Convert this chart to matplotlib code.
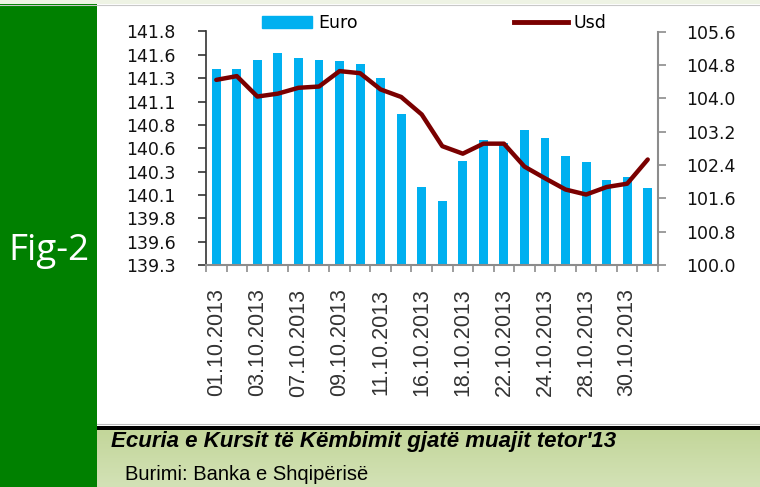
import numpy as np
import matplotlib
matplotlib.use("Agg")
import matplotlib.pyplot as plt
from matplotlib.patches import Rectangle, Patch
from matplotlib.lines import Line2D
from matplotlib.colors import LinearSegmentedColormap

# daily rates, October 2013
dates = ["01.10.2013", "02.10.2013", "03.10.2013", "04.10.2013", "07.10.2013",
         "08.10.2013", "09.10.2013", "10.10.2013", "11.10.2013", "14.10.2013",
         "16.10.2013", "17.10.2013", "18.10.2013", "21.10.2013", "22.10.2013",
         "23.10.2013", "24.10.2013", "25.10.2013", "28.10.2013", "29.10.2013",
         "30.10.2013", "31.10.2013"]
euro = [141.40, 141.40, 141.50, 141.57, 141.52, 141.50, 141.48, 141.45, 141.30,
        140.92, 140.14, 139.99, 140.41, 140.64, 140.61, 140.75, 140.66, 140.47,
        140.40, 140.21, 140.24, 140.12]
usd = [104.44, 104.53, 104.04, 104.11, 104.25, 104.28, 104.65, 104.60, 104.21,
       104.03, 103.61, 102.85, 102.67, 102.91, 102.91, 102.36, 102.08, 101.81,
       101.69, 101.87, 101.95, 102.53]

euro_ticks = ["139.3", "139.6", "139.8", "140.1", "140.3", "140.6",
              "140.8", "141.1", "141.3", "141.6", "141.8"]
usd_ticks = ["100.0", "100.8", "101.6", "102.4", "103.2", "104.0", "104.8", "105.6"]

title = "Ecuria e Kursit të Këmbimit gjatë muajit tetor'13"
source = "Burimi: Banka e Shqipërisë"

W, H = 760, 487
BAR_COLOR = "#00b0f0"
LINE_COLOR = "#7a0000"


def fx(px):
    return px / W


def fy(px):
    return 1 - px / H


fig = plt.figure(figsize=(W / 100, H / 100), dpi=100)
fig.patch.set_facecolor("white")

# frame decorations
fig.add_artist(Rectangle((0, fy(4)), 1, 4 / H, transform=fig.transFigure,
                         color="#eef3e4", lw=0))
fig.add_artist(Line2D([0, 1], [fy(4.5)] * 2, transform=fig.transFigure,
                      color="#c8c8c8", lw=0.8))
fig.add_artist(Rectangle((0, 0), fx(97), fy(4), transform=fig.transFigure,
                         color="#008000", lw=0))
fig.text(fx(49), fy(260), "Fig-2", color="white", fontsize=26.5,
         family=["Open Sans", "DejaVu Sans"], ha="center", va="baseline")

cax = fig.add_axes([fx(97), 0, 1 - fx(97), (H - 430) / H])
grad = LinearSegmentedColormap.from_list("band", ["#c3d69a", "#d3e2b6"])
cax.imshow(np.linspace(0, 1, 60)[:, None], cmap=grad, aspect="auto",
           extent=[0, 1, 0, 1])
cax.axis("off")
fig.add_artist(Line2D([fx(97), 1], [fy(423.5)] * 2, transform=fig.transFigure,
                      color="#bdbdbd", lw=0.8))
fig.add_artist(Rectangle((fx(97), fy(430)), 1 - fx(97), 4 / H,
                         transform=fig.transFigure, color="black", lw=0))
fig.text(fx(111), fy(447), title, fontsize=16, style="italic", weight="bold",
         family=["Liberation Sans Narrow", "Liberation Sans", "DejaVu Sans"],
         va="baseline")
fig.text(fx(125), fy(480), source, fontsize=14.5,
         family=["Liberation Sans Narrow", "Liberation Sans", "DejaVu Sans"],
         va="baseline")

# chart
ax = fig.add_axes([fx(206), fy(265), fx(658 - 206), (265 - 31.5) / H])
x = np.arange(len(dates))
bars = ax.bar(x, euro, width=0.43, color=BAR_COLOR, zorder=2)
ax.set_xlim(-0.5, len(dates) - 0.5)
ax.set_ylim(139.3, 141.8)
ax.set_yticks(np.linspace(139.3, 141.8, len(euro_ticks)))
ax.set_yticklabels(euro_ticks)
ax.tick_params(axis="y", length=6, width=1.2, color="#333333", pad=16,
               labelsize=12.5, labelcolor="#111111")

ax.set_xticks(np.arange(-0.5, len(dates), 1))
ax.set_xticklabels([])
ax.tick_params(axis="x", which="major", length=5, width=1.2, color="#8c8c8c")
ax.set_xticks(x[::2], minor=True)
ax.set_xticklabels(dates[::2], minor=True, rotation=90, fontsize=15.5,
                   family="Liberation Sans", color="#333333")
ax.tick_params(axis="x", which="minor", length=0, pad=17)

ax.spines["top"].set_visible(False)
ax.spines["right"].set_visible(False)
ax.spines["left"].set_color("#333333")
ax.spines["left"].set_linewidth(1.2)
ax.spines["bottom"].set_color("#8c8c8c")
ax.spines["bottom"].set_linewidth(1.5)

ax2 = ax.twinx()
ax2.plot(x, usd, color=LINE_COLOR, lw=3.2, solid_joinstyle="round",
         solid_capstyle="round")
ax2.set_ylim(100.0, 105.6)
ax2.set_yticks(np.linspace(100.0, 105.6, len(usd_ticks)))
ax2.set_yticklabels(usd_ticks)
ax2.tick_params(axis="y", length=6, width=1.2, color="#8c8c8c", pad=14,
                labelsize=12.5, labelcolor="#111111")
for side in ["top", "left", "bottom"]:
    ax2.spines[side].set_visible(False)
ax2.spines["right"].set_color("#8c8c8c")
ax2.spines["right"].set_linewidth(1.5)

# legends sit above the plot area
fig.legend([Patch(color=BAR_COLOR)], ["Euro"], loc="center left",
           bbox_to_anchor=(fx(262), fy(23)), frameon=False, fontsize=12.5,
           handlelength=2.9, handleheight=0.7, handletextpad=0.35,
           borderpad=0, borderaxespad=0)
fig.legend([Line2D([], [], color=LINE_COLOR, lw=3.5)], ["Usd"],
           loc="center left", bbox_to_anchor=(fx(514), fy(23)), frameon=False,
           fontsize=12.5, handlelength=3.1, handletextpad=0.3,
           borderpad=0, borderaxespad=0)

fig.savefig("out.png", dpi=100)
